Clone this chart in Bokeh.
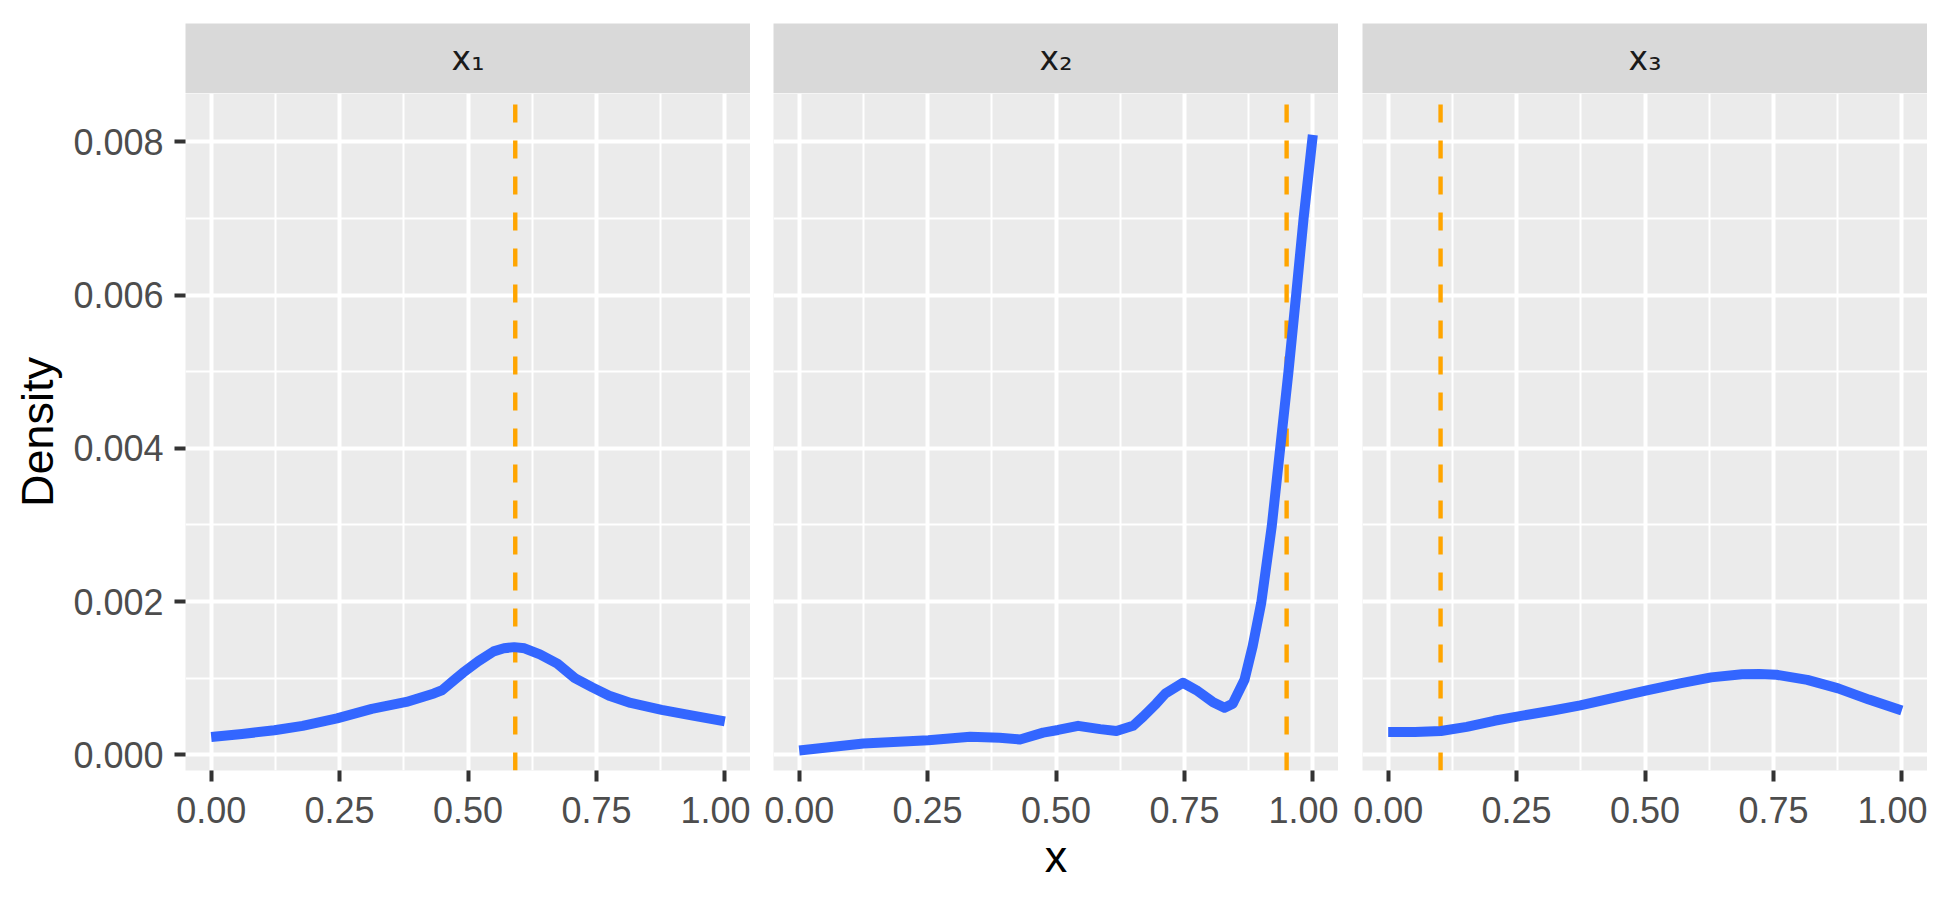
from bokeh.plotting import figure
from bokeh.layouts import row, column
from bokeh.models import Range1d, FixedTicker, NumeralTickFormatter
from bokeh.core.properties import value
from bokeh.embed import file_html
from bokeh.resources import INLINE

# ---- data ----
panel_labels = ["x\u2081", "x\u2082", "x\u2083"]
vline_pos = [0.592, 0.949, 0.102]

x1_grid = [0.00, 0.06, 0.123, 0.178, 0.245, 0.3127, 0.38, 0.4337, 0.45, 0.474, 0.49, 0.52,
           0.55, 0.57, 0.59, 0.61, 0.64, 0.674, 0.708, 0.742, 0.775, 0.8167, 0.877, 0.9377, 1.00]
x1_dens = [0.000233, 0.000272, 0.000320, 0.000378, 0.000476, 0.000600, 0.000690, 0.000800,
           0.000845, 0.000980, 0.001070, 0.001220, 0.001350, 0.001390, 0.001405, 0.001390,
           0.001310, 0.001190, 0.001000, 0.000880, 0.000770, 0.000676, 0.000587, 0.000511,
           0.000436]

x2_grid = [0.00, 0.125, 0.2515, 0.333, 0.39, 0.43, 0.475, 0.504, 0.543, 0.586, 0.6176, 0.65,
           0.67, 0.695, 0.713, 0.747, 0.773, 0.805, 0.828, 0.844, 0.867, 0.883, 0.8995, 0.920,
           0.935, 0.9526, 0.9675, 0.982, 1.00]
x2_dens = [0.000057, 0.000147, 0.000190, 0.000235, 0.000222, 0.000200, 0.000289, 0.000324,
           0.000378, 0.000335, 0.000311, 0.000378, 0.000500, 0.000667, 0.000800, 0.000940,
           0.000845, 0.000690, 0.000613, 0.000667, 0.000980, 0.001420, 0.001980, 0.002980,
           0.003910, 0.005000, 0.006000, 0.007000, 0.008090]

x3_grid = [0.00, 0.0523, 0.1027, 0.153, 0.2065, 0.2535, 0.3205, 0.374, 0.441, 0.5015, 0.568,
           0.6287, 0.689, 0.7225, 0.756, 0.816, 0.876, 0.936, 1.00]
x3_dens = [0.000298, 0.000298, 0.000311, 0.000364, 0.000444, 0.000502, 0.000578, 0.000644,
           0.000747, 0.000836, 0.000933, 0.001010, 0.001050, 0.001053, 0.001044, 0.000978,
           0.000867, 0.000720, 0.000578]

x_ticks = [0.0, 0.25, 0.5, 0.75, 1.0]
x_minor = [0.125, 0.375, 0.625, 0.875]
y_ticks = [0.0, 0.002, 0.004, 0.006, 0.008]
y_minor = [0.001, 0.003, 0.005, 0.007]

series = [(x1_grid, x1_dens), (x2_grid, x2_dens), (x3_grid, x3_dens)]

XR = (-0.05, 1.05)
YR = (-0.000205, 0.00863)
FONT = "Liberation Sans"
left_borders = [185, 23, 24]
FW, FH = 565, 677

cols = []
for i in range(3):
    # strip
    s = figure(frame_width=FW, frame_height=70, x_range=Range1d(0, 1), y_range=Range1d(0, 1),
               output_backend="svg", toolbar_location=None,
               min_border_left=left_borders[i], min_border_right=0,
               min_border_top=23, min_border_bottom=0)
    s.axis.visible = False
    s.grid.visible = False
    s.outline_line_color = None
    s.background_fill_color = "#D9D9D9"
    s.border_fill_color = "white"
    s.text(x=[0.5], y=[0.5], text=[panel_labels[i]], text_align="center",
           text_baseline="middle", text_font=value("DejaVu Sans"),
           text_font_size="33px", text_color="#1A1A1A")

    p = figure(frame_width=FW, frame_height=FH, x_range=Range1d(*XR), y_range=Range1d(*YR),
               output_backend="svg", toolbar_location=None,
               min_border_left=left_borders[i], min_border_right=0,
               min_border_top=0, min_border_bottom=100)
    p.outline_line_color = None
    p.background_fill_color = "#EBEBEB"
    p.border_fill_color = "white"

    p.xaxis.ticker = FixedTicker(ticks=x_ticks, minor_ticks=x_minor)
    p.yaxis.ticker = FixedTicker(ticks=y_ticks, minor_ticks=y_minor)
    p.xaxis.formatter = NumeralTickFormatter(format="0.00")
    p.yaxis.formatter = NumeralTickFormatter(format="0.000")

    for g in p.grid:
        g.grid_line_color = "white"
        g.grid_line_width = 4
        g.minor_grid_line_color = "white"
        g.minor_grid_line_width = 2

    for ax in p.axis:
        ax.axis_line_color = None
        ax.major_tick_line_color = "#333333"
        ax.major_tick_line_width = 4
        ax.major_tick_out = 11
        ax.major_tick_in = 0
        ax.minor_tick_line_color = None
        ax.major_label_text_font = FONT
        ax.major_label_text_font_size = "36px"
        ax.major_label_text_color = "#4D4D4D"
        ax.axis_label_text_font = FONT
        ax.axis_label_text_font_size = "45px"
        ax.axis_label_text_font_style = "normal"
        ax.axis_label_text_color = "black"

    p.xaxis.major_label_standoff = 15
    p.yaxis.major_label_standoff = 11

    if i == 0:
        p.yaxis.axis_label = "Density"
        p.yaxis.axis_label_standoff = 7
    else:
        p.yaxis.visible = False
    if i == 1:
        p.xaxis.axis_label = "x"
        p.xaxis.axis_label_standoff = 5

    xs, ys = series[i]
    p.segment(x0=[vline_pos[i]], y0=[YR[0]], x1=[vline_pos[i]], y1=[YR[1]],
              line_color="#FFA500", line_width=4.4, line_dash="18 18")
    p.line(xs, ys, line_color="#3366FF", line_width=10, line_join="round", line_cap="butt")

    cols.append(column(s, p))

layout = row(*cols)
open("out.html", "w").write(file_html(layout, INLINE))
